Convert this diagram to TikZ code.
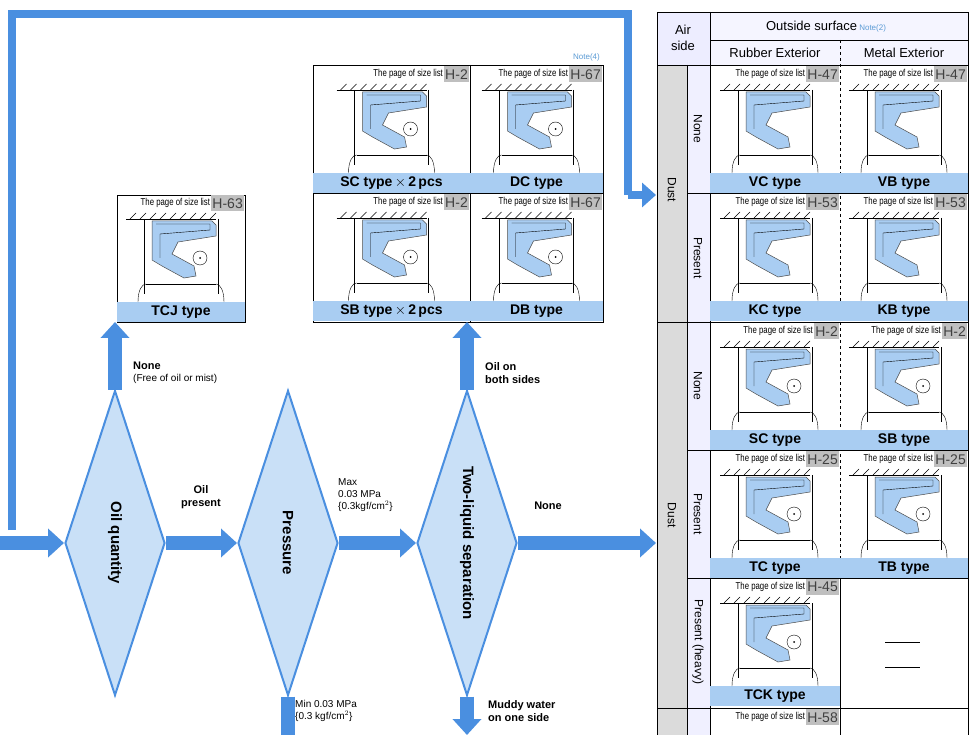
\documentclass[tikz,border=0pt]{standalone}
\usepackage{fontspec}
\setmainfont{Liberation Sans}
\usetikzlibrary{shapes.geometric,arrows.meta,patterns}
\definecolor{flow}{HTML}{4A8FE0}
\definecolor{band}{HTML}{A9CDF2}
\definecolor{dia}{HTML}{C9E0F7}
\definecolor{seal}{HTML}{A9CDF2}
\definecolor{note}{HTML}{5B9BD5}
\newcommand\pgtext{\scalebox{0.78}[1]{\fontsize{10}{10}\selectfont The page of size list}}
\tikzset{
 pg/.style={inner sep=1pt},
 tag/.style={fill=black!25, text=black!75, font=\fontsize{14}{14}\selectfont, inner sep=1pt, minimum height=16pt},
 tname/.style={font=\bfseries\fontsize{14}{14}\selectfont, inner sep=0pt},
 lbl/.style={font=\bfseries\fontsize{11}{13}\selectfont, align=left, inner sep=1pt},
 hd/.style={font=\fontsize{13}{14}\selectfont, inner sep=0pt},
 rl/.style={font=\fontsize{12}{12}\selectfont, rotate=-90, inner sep=0pt},
 fl/.style={draw=flow, line width=14pt},
 fa/.style={-{Triangle[length=16pt,width=28pt]}, draw=flow, line width=14pt},
 dmd/.style={diamond, aspect=0.33, draw=flow, line width=2pt, fill=dia, minimum width=100pt, minimum height=305pt, inner sep=0pt},
 dt/.style={font=\bfseries\fontsize{15}{15}\selectfont, rotate=-90},
}
% generic seal drawing, cell origin (#1,#2), width 130
\newcommand\sealpic[3]{%
\begin{scope}[shift={(#1,#2)}]
 \draw (10,25) -- (100,25);
 \foreach \i in {14,24,...,94} \draw (\i,25) -- (\i+6,19);
 \draw (28,25) -- (28,100) (102,25) -- (102,100);
 \filldraw[fill=seal, draw=black!70, line width=0.5pt] (36,27) -- (96,27) -- (100,31) -- (100,42) -- (62,48) -- (56,60) -- (78,72) -- (80,82) -- (68,84) -- (46,72) -- (36,66) -- cycle;
 \draw[line width=0.4pt] (40,30) -- (94,30) -- (94,36) -- (44,40) -- (44,64);
 \ifnum#3=1
  \filldraw[fill=white, draw=black] (84,64) circle (7);
  \fill (84,64) circle (1);
 \fi
 \draw (22,108) .. controls (22,96) and (26,90) .. (30,90);
 \draw (108,108) .. controls (108,96) and (104,90) .. (100,90);
 \draw (30,90) -- (100,90);
\end{scope}}
% cell: x y w page name id spring
\newcommand\cellbox[7]{%
 \node[tag, anchor=north east] (t#6) at (#1+#3-1,#2+1) {#4};
 \node[pg, anchor=east] (p#6) at (t#6.west) {\pgtext};
 \fill[band] (#1,#2+108) rectangle (#1+#3,#2+128);
 \node[tname] (n#6) at (#1+#3/2,#2+118.5) {#5};
 \sealpic{#1+#3/2-65}{#2}{#7}}
\begin{document}
\begin{tikzpicture}[x=1pt,y=-1pt]
\useasboundingbox (0,0) rectangle (980,735);
\fill[white] (0,0) rectangle (980,735);

% ---------- table ----------
\fill[blue!7] (657,12) rectangle (710,65);
\fill[blue!4] (710,12) rectangle (968,65);
\fill[black!14] (657,65) rectangle (687,735);
\fill[blue!6] (687,65) rectangle (710,735);
\draw[line width=0.8pt] (657,12) rectangle (968,740);
\draw (710,12) -- (710,740) (657,65) -- (968,65) (710,40) -- (968,40);
\draw (657,322) -- (968,322) (657,708) -- (968,708);
\draw (687,193) -- (968,193) (687,450) -- (968,450) (687,578) -- (968,578);
\draw (687,65) -- (687,740);
\draw[dashed] (840,40) -- (840,578);
\draw (840,578) -- (840,740);
\node[hd, align=center] (air) at (683,38) {Air\\[2pt]side};
\node[hd] (outs) at (826,27) {Outside surface\,\textcolor{note}{\fontsize{8}{8}\selectfont Note(2)}};
\node[hd] (rub) at (775,53) {Rubber Exterior};
\node[hd] (met) at (904,53) {Metal Exterior};
\node[rl] (d1) at (672,190) {Dust};
\node[rl] (d2) at (672,515) {Dust};
\node[rl] (r1) at (698,129) {None};
\node[rl] (r2) at (698,258) {Present};
\node[rl] (r3) at (698,386) {None};
\node[rl] (r4) at (698,514) {Present};
\node[rl] (r5) at (698,642) {Present (heavy)};

\cellbox{710}{65}{130}{H-47}{VC type}{vc}{0}
\cellbox{840}{65}{128}{H-47}{VB type}{vb}{0}
\cellbox{710}{193}{130}{H-53}{KC type}{kc}{0}
\cellbox{840}{193}{128}{H-53}{KB type}{kb}{0}
\cellbox{710}{322}{130}{H-2}{SC type}{sc}{1}
\cellbox{840}{322}{128}{H-2}{SB type}{sb}{1}
\cellbox{710}{450}{130}{H-25}{TC type}{tc}{1}
\cellbox{840}{450}{128}{H-25}{TB type}{tb}{1}
\cellbox{710}{578}{130}{H-45}{TCK type}{tck}{1}
\node[tag, anchor=north east] (th58) at (839,709) {H-58};
\node[pg, anchor=east] (ph58) at (th58.west) {\pgtext};
\draw (885,642) -- (920,642) (885,667) -- (920,667);

% ---------- TCJ box ----------
\draw[line width=0.8pt] (117,195) rectangle (245,322);
\cellbox{117}{194}{128}{H-63}{TCJ type}{tcj}{1}

% ---------- four box ----------
\draw[line width=0.8pt] (313,65) rectangle (603,322);
\draw (470,65) -- (470,322) (313,193) -- (603,193);
\node[font=\fontsize{8}{8}\selectfont, text=note, anchor=east, inner sep=0pt] (n4) at (600,57) {Note(4)};
\cellbox{313}{65}{157}{H-2}{SC type\,$\times$\,2\,pcs}{scx}{1}
\cellbox{470}{65}{133}{H-67}{DC type}{dc}{1}
\cellbox{313}{193}{157}{H-2}{SB type\,$\times$\,2\,pcs}{sbx}{1}
\cellbox{470}{193}{133}{H-67}{DB type}{db}{1}

% ---------- flow ----------
\node[dmd] (oq) at (115,543) {};
\node[dt] at (oq) {Oil quantity};
\node[dmd] (pr) at (288,543) {};
\node[dt] at (pr) {Pressure};
\node[dmd] (tl) at (467,543) {};
\node[dt] at (tl) {Two-liquid separation};
\coordinate (st) at (0,543);
\coordinate (tblin) at (656,543);
\coordinate (tblin2) at (656,195);
\coordinate (tcjin) at (115,322);
\coordinate (boxin) at (467,322);
\coordinate (prd) at (288,740);
\coordinate (tld) at (467,735);
\coordinate (topl) at (12,14);
\coordinate (topr) at (628,14);
\coordinate (topd) at (628,195);
\draw[fa] (st) -- (oq.west);
\draw[fa] (oq.east) -- (pr.west);
\draw[fa] (pr.east) -- (tl.west);
\draw[fa] (tl.east) -- (tblin);
\draw[fa] (oq.north) -- (tcjin);
\draw[fa] (tl.north) -- (boxin);
\draw[fl] (pr.south) -- (prd);
\draw[fa] (tl.south) -- (tld);
\draw[draw=flow, line width=8pt] (12,530) -- (topl) -- (topr) -- (topd);
\draw[-{Triangle[length=14pt,width=24pt]}, draw=flow, line width=8pt] (topd) -- (tblin2);

\node[lbl, anchor=west] (l1) at (132,373) {None\\[-1pt]{\mdseries\fontsize{10}{12}\selectfont(Free of oil or mist)}};
\node[lbl, align=center] (l2) at (201,497) {Oil\\present};
\node[lbl, anchor=west, font=\fontsize{10}{12}\selectfont] (l3) at (337,495) {Max\\0.03 MPa\\\{0.3kgf/cm$^2$\}};
\node[lbl, anchor=west, font=\fontsize{10}{12}\selectfont] (l4) at (294,711) {Min 0.03 MPa\\\{0.3 kgf/cm$^2$\}};
\node[lbl, anchor=west] (l5) at (484,373) {Oil on\\both sides};
\node[lbl] (l6) at (548,506) {None};
\node[lbl, anchor=west] (l7) at (487,711) {Muddy water\\on one side};
\end{tikzpicture}
\end{document}
